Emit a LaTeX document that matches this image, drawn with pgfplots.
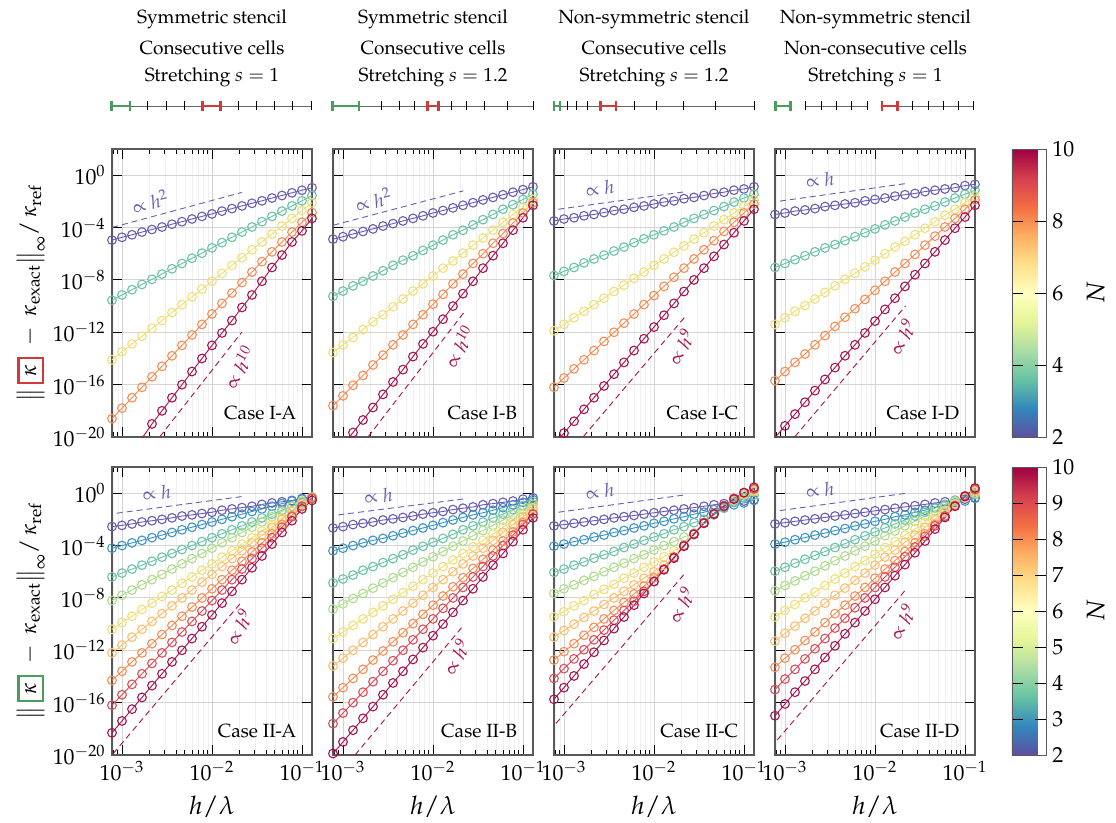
\documentclass[border=0pt]{standalone}
\usepackage{mathpazo}
\usepackage[no-math]{fontspec}
\setmainfont{TeX Gyre Pagella}
\usepackage{pgfplots}
\usepackage{pgfplotstable}
\pgfplotsset{compat=1.18}
\usepgfplotslibrary{groupplots}

\definecolor{c2}{HTML}{6A5DB0}
\definecolor{c3}{HTML}{3F94C2}
\definecolor{c4}{HTML}{6CC3A5}
\definecolor{c5}{HTML}{AEDB8C}
\definecolor{c6}{HTML}{EEDF78}
\definecolor{c7}{HTML}{FDBE6E}
\definecolor{c8}{HTML}{F88D55}
\definecolor{c9}{HTML}{DD4D58}
\definecolor{c10}{HTML}{A8124E}
\definecolor{kred}{HTML}{D03A3A}
\definecolor{kgreen}{HTML}{4A9E5C}

\pgfplotsset{colormap={spec}{rgb255=(94,79,162) rgb255=(50,136,189) rgb255=(102,194,165) rgb255=(171,221,164) rgb255=(230,245,152) rgb255=(255,255,191) rgb255=(254,224,139) rgb255=(253,174,97) rgb255=(244,109,67) rgb255=(213,62,79) rgb255=(158,1,66)}}

\setlength{\fboxrule}{1.3pt}
\setlength{\fboxsep}{3pt}
\newcommand{\hdr}{\fontsize{10.5}{12}\selectfont}
\newcommand{\tck}{\fontsize{12}{14}\selectfont}
\newcommand{\lbl}{\fontsize{14}{16}\selectfont}
\newcommand{\ylbl}{\fontsize{12.5}{14}\selectfont}
\newcommand{\ser}[3]{\addplot[color=#1, mark=o] table[x=x, y=#2] {#3};}
\newcommand{\case}[1]{\node[anchor=base east, font=\hdr] at (rel axis cs:0.953,0.0625) {#1};}
\newcommand{\stick}[1]{\draw[line width=0.5pt] (#1,101.5) -- (#1,110.5);}
\newcommand{\scell}[3]{\draw[#1, line width=1.4pt] (#2,106) -- (#3,106) (#2,101) -- (#2,111) (#3,101) -- (#3,111);}
\tikzset{refl/.style={dash pattern=on 3.3pt off 2.2pt, line width=0.5pt, mark=none}}

% case I: N = 2 4 6 8 10
\pgfplotstableread{
x n2 n4 n6 n8 n10
7.743e-4 1.1e-5 2.8e-10 7.9e-15 2.5e-19 nan
1e-3 1.8e-5 7.1e-10 3.2e-14 1.6e-18 nan
1.292e-3 2.8e-5 1.8e-9 1.3e-13 1e-17 nan
1.668e-3 4.5e-5 4.5e-9 5e-13 6.3e-17 nan
2.154e-3 7.1e-5 1.1e-8 2e-12 4e-16 1e-19
2.783e-3 1.1e-4 2.8e-8 7.9e-12 2.5e-15 1e-18
3.594e-3 1.8e-4 7.1e-8 3.2e-11 1.6e-14 1e-17
4.642e-3 2.8e-4 1.8e-7 1.3e-10 1e-13 1e-16
5.995e-3 4.5e-4 4.5e-7 5e-10 6.3e-13 1e-15
7.743e-3 7.1e-4 1.1e-6 2e-9 4e-12 1e-14
1e-2 1.1e-3 2.8e-6 7.9e-9 2.5e-11 1e-13
1.292e-2 1.8e-3 7.1e-6 3.2e-8 1.6e-10 8.9e-13
1.668e-2 2.8e-3 1.8e-5 1.3e-7 1e-9 7.9e-12
2.154e-2 4.5e-3 4.5e-5 5e-7 6.3e-9 7.9e-11
2.783e-2 7.1e-3 1.1e-4 2e-6 4e-8 7.1e-10
3.594e-2 1.1e-2 2.8e-4 7.9e-6 2.5e-7 7.9e-9
4.642e-2 1.8e-2 7.1e-4 3.2e-5 1.4e-6 8.9e-8
5.995e-2 2.8e-2 1.8e-3 1.3e-4 7.9e-6 7.9e-7
7.743e-2 4.5e-2 4.5e-3 5e-4 4.5e-5 7.9e-6
1e-1 7.1e-2 1.1e-2 2e-3 2.5e-4 5.6e-5
1.292e-1 1.1e-1 2.8e-2 7.9e-3 1.4e-3 5e-4
}\tIA
\pgfplotstableread{
x n2 n4 n6 n8 n10
7.743e-4 1.3e-5 5.6e-10 2.8e-14 2.5e-18 nan
1e-3 2e-5 1.4e-9 1.1e-13 1.4e-17 nan
1.292e-3 3.2e-5 3.5e-9 4e-13 8.9e-17 2.2e-20
1.668e-3 5e-5 7.9e-9 1.6e-12 5e-16 2e-19
2.154e-3 7.9e-5 2e-8 6.3e-12 3.2e-15 1.8e-18
2.783e-3 1.3e-4 5e-8 2.2e-11 1.8e-14 1.8e-17
3.594e-3 2e-4 1.3e-7 8.9e-11 1.1e-13 1.6e-16
4.642e-3 3.2e-4 3.2e-7 3.5e-10 6.3e-13 1.4e-15
5.995e-3 5e-4 7.1e-7 1.4e-9 4e-12 1.4e-14
7.743e-3 7.9e-4 1.8e-6 5e-9 2.2e-11 1.3e-13
1e-2 1.3e-3 4.5e-6 2e-8 1.4e-10 1.1e-12
1.292e-2 2e-3 1.1e-5 7.9e-8 7.9e-10 1e-11
1.668e-2 3.2e-3 2.8e-5 2.8e-7 5e-9 1e-10
2.154e-2 5e-3 6.3e-5 1.1e-6 2.8e-8 8.9e-10
2.783e-2 7.9e-3 1.6e-4 4.5e-6 1.8e-7 7.9e-9
3.594e-2 1.3e-2 4e-4 1.6e-5 1e-6 7.9e-8
4.642e-2 2e-2 1e-3 6.3e-5 6.3e-6 7.1e-7
5.995e-2 3.2e-2 2.5e-3 2.5e-4 3.5e-5 6.3e-6
7.743e-2 5e-2 5.6e-3 1e-3 2.2e-4 6.3e-5
1e-1 7.9e-2 1.4e-2 3.5e-3 1.3e-3 5.6e-4
1.292e-1 1.3e-1 3.5e-2 1.4e-2 7.9e-3 5e-3
}\tIB
\pgfplotstableread{
x n2 n4 n6 n8 n10
7.743e-4 3.2e-4 2.2e-8 1.3e-12 6.3e-17 nan
1e-3 4.5e-4 4.5e-8 4e-12 3.2e-16 2e-20
1.292e-3 5.6e-4 8.9e-8 1.3e-11 1.6e-15 1.6e-19
1.668e-3 7.9e-4 2e-7 4e-11 7.9e-15 1.3e-18
2.154e-3 1e-3 4e-7 1.3e-10 4e-14 1e-17
2.783e-3 1.4e-3 7.9e-7 4e-10 2e-13 7.9e-17
3.594e-3 2e-3 1.6e-6 1.3e-9 1e-12 6.3e-16
4.642e-3 2.5e-3 3.2e-6 4e-9 5e-12 5e-15
5.995e-3 3.5e-3 7.1e-6 1.3e-8 2.5e-11 4e-14
7.743e-3 4.5e-3 1.4e-5 4e-8 1.3e-10 3.2e-13
1e-2 6.3e-3 2.8e-5 1.3e-7 6.3e-10 2.5e-12
1.292e-2 8.9e-3 5.6e-5 4e-7 3.2e-9 2e-11
1.668e-2 1.1e-2 1.1e-4 1.3e-6 1.6e-8 1.6e-10
2.154e-2 1.6e-2 2.5e-4 4e-6 7.9e-8 1.3e-9
2.783e-2 2e-2 5e-4 1.3e-5 4e-7 1e-8
3.594e-2 2.8e-2 1e-3 4e-5 2e-6 7.9e-8
4.642e-2 4e-2 2e-3 1.3e-4 1e-5 6.3e-7
5.995e-2 5e-2 4e-3 4e-4 5e-5 5e-6
7.743e-2 7.1e-2 8.9e-3 1.3e-3 2.5e-4 4e-5
1e-1 8.9e-2 1.8e-2 4e-3 1.3e-3 3.2e-4
1.292e-1 1.3e-1 3.5e-2 1.3e-2 6.3e-3 2.5e-3
}\tIC
\pgfplotstableread{
x n2 n4 n6 n8 n10
7.743e-4 1e-3 8.9e-8 4e-12 2e-16 nan
1e-3 1.3e-3 1.8e-7 1.3e-11 1e-15 7.1e-20
1.292e-3 1.8e-3 3.5e-7 4e-11 5e-15 5.6e-19
1.668e-3 2.2e-3 7.1e-7 1.1e-10 2.2e-14 4.5e-18
2.154e-3 2.8e-3 1.4e-6 3.5e-10 1.1e-13 3.5e-17
2.783e-3 4e-3 2.8e-6 1.1e-9 5.6e-13 2.5e-16
3.594e-3 5e-3 5e-6 3.5e-9 2.8e-12 2e-15
4.642e-3 6.3e-3 1e-5 1.1e-8 1.4e-11 1.6e-14
5.995e-3 7.9e-3 2e-5 3.2e-8 6.3e-11 1.1e-13
7.743e-3 1.1e-2 4e-5 1e-7 3.2e-10 8.9e-13
1e-2 1.4e-2 7.9e-5 3.2e-7 1.6e-9 7.1e-12
1.292e-2 1.8e-2 1.6e-4 1e-6 7.9e-9 5.6e-11
1.668e-2 2.5e-2 3.2e-4 3.2e-6 4e-8 4e-10
2.154e-2 3.2e-2 6.3e-4 8.9e-6 1.8e-7 3.2e-9
2.783e-2 4e-2 1.3e-3 2.8e-5 8.9e-7 2.5e-8
3.594e-2 5.6e-2 2.5e-3 8.9e-5 4.5e-6 1.8e-7
4.642e-2 7.1e-2 4.5e-3 2.8e-4 2.2e-5 1.4e-6
5.995e-2 8.9e-2 8.9e-3 8.9e-4 1.1e-4 1.1e-5
7.743e-2 1.1e-1 1.8e-2 2.5e-3 5e-4 8.9e-5
1e-1 1.6e-1 3.5e-2 7.9e-3 2.5e-3 6.3e-4
1.292e-1 2e-1 7.1e-2 2.5e-2 1.3e-2 5e-3
}\tID

% case II: N = 2 ... 10
\pgfplotstableread{
x n2 n3 n4 n5 n6 n7 n8 n9 n10
7.743e-4 2.8e-3 6.3e-5 4e-7 6.3e-9 4e-11 6.3e-13 5e-15 6.3e-17 5e-19
1e-3 3.5e-3 1e-4 7.9e-7 1.6e-8 1.3e-10 2.5e-12 2.5e-14 4e-16 4e-18
1.292e-3 4.5e-3 1.6e-4 1.6e-6 4e-8 4e-10 1e-11 1.3e-13 2.5e-15 3.2e-17
1.668e-3 6.3e-3 2.5e-4 3.2e-6 1e-7 1.3e-9 4e-11 6.3e-13 1.6e-14 2.5e-16
2.154e-3 7.9e-3 4e-4 6.3e-6 2.5e-7 4e-9 1.6e-10 3.2e-12 1e-13 2e-15
2.783e-3 1e-2 6.3e-4 1.3e-5 6.3e-7 1.3e-8 6.3e-10 1.6e-11 6.3e-13 1.6e-14
3.594e-3 1.3e-2 1e-3 2.5e-5 1.6e-6 4e-8 2.5e-9 7.9e-11 4e-12 1.3e-13
4.642e-3 1.8e-2 1.6e-3 5e-5 4e-6 1.3e-7 1e-8 4e-10 2.5e-11 1e-12
5.995e-3 2.2e-2 2.5e-3 1e-4 1e-5 4e-7 4e-8 2e-9 1.6e-10 7.9e-12
7.743e-3 2.8e-2 4e-3 2e-4 2.5e-5 1.3e-6 1.6e-7 1e-8 1e-9 6.3e-11
1e-2 3.5e-2 6.3e-3 4e-4 6.3e-5 4e-6 6.3e-7 5e-8 6.3e-9 5e-10
1.292e-2 5e-2 1e-2 7.9e-4 1.6e-4 1.3e-5 2.5e-6 2.5e-7 4e-8 4e-9
1.668e-2 6.3e-2 1.6e-2 1.6e-3 4e-4 4e-5 1e-5 1.3e-6 2.5e-7 3.2e-8
2.154e-2 7.9e-2 2.5e-2 3.2e-3 1e-3 1.3e-4 4e-5 6.3e-6 1.6e-6 2.5e-7
2.783e-2 1e-1 4e-2 6.3e-3 2.5e-3 4e-4 1.6e-4 3.2e-5 1e-5 2e-6
3.594e-2 1.4e-1 6.3e-2 1.3e-2 6.3e-3 1.3e-3 6.3e-4 1.6e-4 6.3e-5 1.6e-5
4.642e-2 1.8e-1 1e-1 2.5e-2 1.6e-2 4e-3 2.5e-3 7.9e-4 4e-4 1.3e-4
5.995e-2 2.2e-1 1.6e-1 5e-2 4e-2 1.3e-2 1e-2 4e-3 2.5e-3 1e-3
7.743e-2 2.8e-1 2.5e-1 1e-1 1e-1 4e-2 4e-2 2e-2 1.6e-2 7.9e-3
1e-1 4e-1 3.5e-1 2e-1 2.5e-1 1.3e-1 1.6e-1 1e-1 1e-1 6.3e-2
1.292e-1 5e-1 5e-1 4e-1 5e-1 4e-1 4.5e-1 4.5e-1 4e-1 2.8e-1
}\tIIA
\pgfplotstableread{
x n2 n3 n4 n5 n6 n7 n8 n9 n10
7.743e-4 2.2e-3 4e-5 1.4e-7 1.4e-9 7.9e-12 6.3e-14 2.8e-16 2.5e-18 1.3e-20
1e-3 2.8e-3 6.3e-5 2.8e-7 3.5e-9 2.5e-11 2.5e-13 1.4e-15 1.6e-17 1e-19
1.292e-3 4e-3 1e-4 5.6e-7 8.9e-9 7.9e-11 1e-12 7.1e-15 1e-16 7.9e-19
1.668e-3 5e-3 1.6e-4 1.3e-6 2.2e-8 2.5e-10 4e-12 3.5e-14 6.3e-16 6.3e-18
2.154e-3 6.3e-3 2.5e-4 2.5e-6 5.6e-8 7.9e-10 1.6e-11 1.8e-13 4e-15 5e-17
2.783e-3 8.9e-3 3.5e-4 5e-6 1.4e-7 2.5e-9 6.3e-11 8.9e-13 2.5e-14 4e-16
3.594e-3 1.1e-2 5.6e-4 1e-5 3.5e-7 7.9e-9 2.5e-10 4.5e-12 1.6e-13 3.2e-15
4.642e-3 1.4e-2 8.9e-4 2e-5 8.9e-7 2.5e-8 1e-9 2.2e-11 1e-12 2.5e-14
5.995e-3 1.8e-2 1.4e-3 4.5e-5 2.2e-6 7.9e-8 4e-9 1.1e-10 6.3e-12 2e-13
7.743e-3 2.5e-2 2.2e-3 8.9e-5 5.6e-6 2.5e-7 1.6e-8 5.6e-10 4e-11 1.6e-12
1e-2 3.2e-2 3.5e-3 1.8e-4 1.4e-5 7.9e-7 6.3e-8 2.8e-9 2.5e-10 1.3e-11
1.292e-2 4e-2 5.6e-3 3.5e-4 3.5e-5 2.5e-6 2.5e-7 1.4e-8 1.6e-9 1e-10
1.668e-2 5.6e-2 8.9e-3 7.1e-4 8.9e-5 7.9e-6 1e-6 7.1e-8 1e-8 7.9e-10
2.154e-2 7.1e-2 1.4e-2 1.6e-3 2.2e-4 2.5e-5 4e-6 3.5e-7 6.3e-8 6.3e-9
2.783e-2 8.9e-2 2.2e-2 3.2e-3 5.6e-4 7.9e-5 1.6e-5 1.8e-6 4e-7 5e-8
3.594e-2 1.3e-1 3.2e-2 6.3e-3 1.4e-3 2.5e-4 6.3e-5 8.9e-6 2.5e-6 4e-7
4.642e-2 1.6e-1 5e-2 1.3e-2 3.5e-3 7.9e-4 2.5e-4 4.5e-5 1.6e-5 3.2e-6
5.995e-2 2e-1 7.9e-2 2.5e-2 8.9e-3 2.5e-3 1e-3 2.2e-4 1e-4 2.5e-5
7.743e-2 2.5e-1 1.3e-1 5.6e-2 2.2e-2 7.9e-3 4e-3 1.1e-3 6.3e-4 2e-4
1e-1 3.5e-1 2e-1 1.1e-1 5.6e-2 2.5e-2 1.6e-2 5.6e-3 4e-3 1.6e-3
1.292e-1 4.5e-1 3.2e-1 2.2e-1 1.4e-1 7.9e-2 6.3e-2 2.8e-2 2.5e-2 1.3e-2
}\tIIB
\pgfplotstableread{
x n2 n3 n4 n5 n6 n7 n8 n9 n10
7.743e-4 3.2e-3 8.9e-5 8.9e-7 2.2e-8 3.5e-10 1e-11 1.8e-13 7.1e-15 1.8e-16
1e-3 4e-3 1.3e-4 1.6e-6 5e-8 8.9e-10 3.2e-11 7.9e-13 4e-14 1.4e-15
1.292e-3 5e-3 2e-4 3.2e-6 1e-7 2.5e-9 1e-10 3.2e-12 2.2e-13 1.1e-14
1.668e-3 6.3e-3 2.8e-4 5.6e-6 2.2e-7 6.3e-9 3.2e-10 1.4e-11 1.1e-12 8.9e-14
2.154e-3 7.9e-3 4.5e-4 1.1e-5 4.5e-7 1.8e-8 1e-9 5.6e-11 6.3e-12 7.1e-13
2.783e-3 1e-2 6.3e-4 2e-5 1e-6 4.5e-8 3.2e-9 2.5e-10 3.5e-11 5.6e-12
3.594e-3 1.3e-2 1e-3 3.5e-5 2.2e-6 1.1e-7 1e-8 1.1e-9 2e-10 4.5e-11
4.642e-3 1.6e-2 1.4e-3 7.1e-5 4.5e-6 3.2e-7 3.2e-8 4.5e-9 1.1e-9 3.5e-10
5.995e-3 2e-2 2.2e-3 1.3e-4 1e-5 7.9e-7 1e-7 2e-8 5.6e-9 2.8e-9
7.743e-3 2.5e-2 3.2e-3 2.5e-4 2e-5 2.2e-6 3.2e-7 7.9e-8 3.2e-8 2.2e-8
1e-2 3.2e-2 5e-3 4.5e-4 4.5e-5 5.6e-6 1e-6 3.5e-7 1.8e-7 1.8e-7
1.292e-2 4e-2 7.1e-3 7.9e-4 1e-4 1.4e-5 3.2e-6 1.6e-6 1.6e-6 1.4e-6
1.668e-2 5e-2 1.1e-2 1.6e-3 2e-4 4e-5 1.1e-5 1.3e-5 1.3e-5 1.1e-5
2.154e-2 6.3e-2 1.6e-2 2.8e-3 4.5e-4 1e-4 1e-4 1e-4 1e-4 8.9e-5
2.783e-2 7.9e-2 2.5e-2 5.6e-3 8.9e-4 7.9e-4 7.9e-4 7.9e-4 7.9e-4 7.1e-4
3.594e-2 1e-1 3.5e-2 1e-2 5.6e-3 5.6e-3 5.6e-3 5.6e-3 5.6e-3 5e-3
4.642e-2 1.3e-1 5.6e-2 2.2e-2 2.8e-2 2.8e-2 2.8e-2 2.8e-2 2.8e-2 2.5e-2
5.995e-2 1.6e-1 7.9e-2 7.1e-2 1e-1 1.1e-1 1.1e-1 1.1e-1 1.1e-1 1e-1
7.743e-2 2e-1 1.3e-1 2e-1 2.8e-1 3.5e-1 3.5e-1 4e-1 4e-1 3.5e-1
1e-1 2.5e-1 1.8e-1 4.5e-1 7.1e-1 8.9e-1 1 1 1.1 1.1
1.292e-1 3.2e-1 2.8e-1 7.1e-1 1.3 1.6 1.8 2 2.2 2.8
}\tIIC
\pgfplotstableread{
x n2 n3 n4 n5 n6 n7 n8 n9 n10
7.743e-4 4.5e-3 1.3e-4 1.1e-6 3.5e-8 3.5e-10 5e-12 5e-14 1e-15 1e-17
1e-3 5.6e-3 1.8e-4 2.2e-6 8.9e-8 1.1e-9 2e-11 2.5e-13 6.3e-15 7.9e-17
1.292e-3 7.1e-3 2.8e-4 4.5e-6 2e-7 3.2e-9 7.1e-11 1.1e-12 3.5e-14 6.3e-16
1.668e-3 8.9e-3 4e-4 8.9e-6 5e-7 1e-8 2.8e-10 5.6e-12 2.2e-13 4.5e-15
2.154e-3 1.1e-2 6.3e-4 1.8e-5 1.1e-6 2.8e-8 1e-9 2.5e-11 1.3e-12 3.5e-14
2.783e-3 1.4e-2 8.9e-4 3.5e-5 2.8e-6 8.9e-8 4e-9 1.3e-10 7.9e-12 2.8e-13
3.594e-3 1.8e-2 1.4e-3 7.1e-5 7.1e-6 2.8e-7 1.6e-8 6.3e-10 5e-11 2.2e-12
4.642e-3 2.2e-2 2e-3 1.4e-4 1.6e-5 7.9e-7 5.6e-8 2.8e-9 2.8e-10 1.8e-11
5.995e-3 2.8e-2 3.2e-3 2.8e-4 4e-5 2.5e-6 2.2e-7 1.4e-8 1.8e-9 1.3e-10
7.743e-3 3.5e-2 4.5e-3 5.6e-4 8.9e-5 7.1e-6 7.9e-7 6.3e-8 1e-8 1e-9
1e-2 4.5e-2 7.1e-3 1.1e-3 2.2e-4 2.2e-5 3.2e-6 3.2e-7 6.3e-8 7.9e-9
1.292e-2 5.6e-2 1e-2 2.2e-3 5.6e-4 7.1e-5 1.3e-5 1.6e-6 4e-7 6.3e-8
1.668e-2 7.1e-2 1.6e-2 4.5e-3 1.3e-3 2e-4 4.5e-5 7.1e-6 2.2e-6 5e-7
2.154e-2 8.9e-2 2.2e-2 8.9e-3 3.2e-3 6.3e-4 1.8e-4 3.5e-5 1.4e-5 3.5e-6
2.783e-2 1.1e-1 3.5e-2 1.8e-2 7.1e-3 1.8e-3 6.3e-4 1.6e-4 7.9e-5 2.8e-5
3.594e-2 1.4e-1 5e-2 3.5e-2 1.8e-2 5.6e-3 2.5e-3 7.9e-4 5e-4 2.2e-4
4.642e-2 1.8e-1 7.9e-2 7.1e-2 4.5e-2 1.8e-2 1e-2 4e-3 3.2e-3 1.8e-3
5.995e-2 2.2e-1 1.1e-1 1.4e-1 1e-1 5e-2 3.5e-2 1.8e-2 1.8e-2 1.4e-2
7.743e-2 2.8e-1 1.8e-1 2.8e-1 2.5e-1 1.6e-1 1.4e-1 1.1e-1 1.1e-1 1e-1
1e-1 3.5e-1 2.5e-1 5e-1 5.6e-1 4.5e-1 5e-1 5.6e-1 6.3e-1 5.6e-1
1.292e-1 4.5e-1 4e-1 7.9e-1 1 1.3 1.6 1.8 2 2.5
}\tIID

\begin{document}
\begin{tikzpicture}
\begin{groupplot}[
  group style={group size=4 by 2, horizontal sep=11.55pt, vertical sep=16.5pt,
    xticklabels at=edge bottom, yticklabels at=edge left, xlabels at=edge bottom},
  scale only axis, width=110pt, height=158.4pt,
  xmode=log, ymode=log,
  xmin=7.743e-4, xmax=0.1292, ymin=1e-20, ymax=1e2,
  xtick={1e-3,1e-2,1e-1},
  minor xtick={8e-4,9e-4,2e-3,3e-3,4e-3,5e-3,6e-3,7e-3,8e-3,9e-3,2e-2,3e-2,4e-2,5e-2,6e-2,7e-2,8e-2,9e-2},
  ytick={1e-20,1e-16,1e-12,1e-8,1e-4,1e0},
  yminorticks=false,
  xmajorgrids, ymajorgrids, xminorgrids,
  major grid style={black!17, line width=0.5pt},
  minor grid style={black!6, line width=0.4pt},
  tick align=inside, major tick length=5.5pt, minor tick length=2.75pt,
  tick style={black, line width=0.5pt},
  axis line style={black!65, line width=0.8pt},
  tick label style={font=\tck},
  xlabel={$h/\lambda$}, xlabel style={font=\lbl, yshift=-1.5pt},
  every axis plot/.append style={line width=0.5pt, mark size=2.4pt, mark options={line width=0.6pt, solid}},
]
% ---------------- row 1
\nextgroupplot[ylabel={$\bigl\|\,\fcolorbox{kred}{white}{$\kappa$}\;-\;\kappa_{\mathrm{exact}}\bigr\|_{\infty}/\,\kappa_{\mathrm{ref}}$},
  ylabel style={font=\ylbl, at={(axis description cs:-0.405,0.5)}, anchor=center, inner sep=0pt}]
\ser{c2}{n2}{\tIA}
\ser{c4}{n4}{\tIA}
\ser{c6}{n6}{\tIA}
\ser{c8}{n8}{\tIA}
\ser{c10}{n10}{\tIA}
\addplot[c10, mark=none] coordinates {(1.668e-3,7.9e-21) (2.154e-3,1e-19)};
\addplot[c2, refl] coordinates {(7.8e-4,1.02e-4) (2.14e-2,4.8e-2)};
\addplot[c10, refl] coordinates {(2.64e-3,1.07e-20) (2.14e-2,1e-12)};
\node[rotate=15, text=c2, font=\hdr] at (axis cs:2.05e-3,9.1e-3) {$\propto h^{2}$};
\node[rotate=60, text=c10, font=\hdr] at (axis cs:2.0e-2,2.2e-15) {$\propto h^{10}$};
\case{Case I-A}

\nextgroupplot
\ser{c2}{n2}{\tIB}
\ser{c4}{n4}{\tIB}
\ser{c6}{n6}{\tIB}
\ser{c8}{n8}{\tIB}
\ser{c10}{n10}{\tIB}
\addplot[c10, mark=none] coordinates {(1e-3,2.3e-21) (1.292e-3,2.2e-20)};
\addplot[c2, refl] coordinates {(7.8e-4,1.5e-4) (2.17e-2,6.3e-2)};
\addplot[c10, refl] coordinates {(1.91e-3,1.07e-20) (2.21e-2,3.3e-11)};
\node[rotate=15, text=c2, font=\hdr] at (axis cs:2.17e-3,1.23e-2) {$\propto h^{2}$};
\node[rotate=60, text=c10, font=\hdr] at (axis cs:1.95e-2,7.9e-14) {$\propto h^{10}$};
\case{Case I-B}

\nextgroupplot
\ser{c2}{n2}{\tIC}
\ser{c4}{n4}{\tIC}
\ser{c6}{n6}{\tIC}
\ser{c8}{n8}{\tIC}
\ser{c10}{n10}{\tIC}
\addplot[c10, mark=none] coordinates {(7.743e-4,2.5e-21) (1e-3,2e-20)};
\addplot[c2, refl] coordinates {(8.65e-4,2.5e-3) (2.21e-2,5.4e-2)};
\addplot[c10, refl] coordinates {(1.64e-3,1.07e-20) (2.21e-2,1.5e-11)};
\node[rotate=8, text=c2, font=\hdr] at (axis cs:2.51e-3,9.6e-2) {$\propto h$};
\node[rotate=60, text=c10, font=\hdr] at (axis cs:1.98e-2,7.9e-14) {$\propto h^{9}$};
\case{Case I-C}

\nextgroupplot[colorbar, colormap name=spec, point meta min=2, point meta max=10,
  colorbar shift/.style={xshift=20.35pt},
  colorbar style={at={(parent axis.north east)}, anchor=north west, width=18.7pt,
    ytick={2,4,6,8,10}, yticklabel style={font=\tck},
    ylabel={$N$}, ylabel style={font=\lbl},
    tick align=inside, major tick length=5.8pt, tick style={black, line width=0.5pt},
    axis line style={black!65, line width=0.5pt}}]
\ser{c2}{n2}{\tID}
\ser{c4}{n4}{\tID}
\ser{c6}{n6}{\tID}
\ser{c8}{n8}{\tID}
\ser{c10}{n10}{\tID}
\addplot[c10, mark=none] coordinates {(7.743e-4,8.9e-21) (1e-3,7.1e-20)};
\addplot[c2, refl] coordinates {(8.8e-4,1.05e-2) (2.25e-2,0.234)};
\addplot[c10, refl] coordinates {(1.29e-3,1.07e-20) (2.19e-2,1.05e-10)};
\node[rotate=8, text=c2, font=\hdr] at (axis cs:2.45e-3,0.42) {$\propto h$};
\node[rotate=60, text=c10, font=\hdr] at (axis cs:2.0e-2,4.6e-13) {$\propto h^{9}$};
\case{Case I-D}

% ---------------- row 2
\nextgroupplot[ylabel={$\bigl\|\,\fcolorbox{kgreen}{white}{$\kappa$}\;-\;\kappa_{\mathrm{exact}}\bigr\|_{\infty}/\,\kappa_{\mathrm{ref}}$},
  ylabel style={font=\ylbl, at={(axis description cs:-0.405,0.5)}, anchor=center, inner sep=0pt}]
\ser{c2}{n2}{\tIIA}
\ser{c3}{n3}{\tIIA}
\ser{c4}{n4}{\tIIA}
\ser{c5}{n5}{\tIIA}
\ser{c6}{n6}{\tIIA}
\ser{c7}{n7}{\tIIA}
\ser{c8}{n8}{\tIIA}
\ser{c9}{n9}{\tIIA}
\ser{c10}{n10}{\tIIA}
\addplot[c2, refl] coordinates {(8.73e-4,2.95e-2) (2.14e-2,0.55)};
\addplot[c10, refl] coordinates {(8e-4,1.3e-20) (2.14e-2,5.1e-9)};
\node[rotate=8, text=c2, font=\hdr] at (axis cs:2.43e-3,1) {$\propto h$};
\node[rotate=60, text=c10, font=\hdr] at (axis cs:1.98e-2,6.3e-11) {$\propto h^{9}$};
\case{Case II-A}

\nextgroupplot
\ser{c2}{n2}{\tIIB}
\ser{c3}{n3}{\tIIB}
\ser{c4}{n4}{\tIIB}
\ser{c5}{n5}{\tIIB}
\ser{c6}{n6}{\tIIB}
\ser{c7}{n7}{\tIIB}
\ser{c8}{n8}{\tIIB}
\ser{c9}{n9}{\tIIB}
\ser{c10}{n10}{\tIIB}
\addplot[c2, refl] coordinates {(8.87e-4,2.2e-2) (2.17e-2,0.36)};
\addplot[c10, refl] coordinates {(1.36e-3,1e-20) (2.12e-2,6.3e-11)};
\node[rotate=8, text=c2, font=\hdr] at (axis cs:2.47e-3,0.62) {$\propto h$};
\node[rotate=60, text=c10, font=\hdr] at (axis cs:1.8e-2,3.2e-13) {$\propto h^{9}$};
\case{Case II-B}

\nextgroupplot
\ser{c2}{n2}{\tIIC}
\ser{c3}{n3}{\tIIC}
\ser{c4}{n4}{\tIIC}
\ser{c5}{n5}{\tIIC}
\ser{c6}{n6}{\tIIC}
\ser{c7}{n7}{\tIIC}
\ser{c8}{n8}{\tIIC}
\ser{c9}{n9}{\tIIC}
\ser{c10}{n10}{\tIIC}
\addplot[c2, refl] coordinates {(8.65e-4,3.5e-2) (2.21e-2,0.74)};
\addplot[c10, refl] coordinates {(8.15e-4,2.6e-18) (2.21e-2,7.6e-7)};
\node[rotate=8, text=c2, font=\hdr] at (axis cs:2.51e-3,1.3) {$\propto h$};
\node[rotate=60, text=c10, font=\hdr] at (axis cs:2.0e-2,2.9e-9) {$\propto h^{9}$};
\case{Case II-C}

\nextgroupplot[colorbar, colormap name=spec, point meta min=2, point meta max=10,
  colorbar shift/.style={xshift=20.35pt},
  colorbar style={at={(parent axis.north east)}, anchor=north west, width=18.7pt,
    ytick={2,3,...,10}, yticklabel style={font=\tck},
    ylabel={$N$}, ylabel style={font=\lbl},
    tick align=inside, major tick length=5.8pt, tick style={black, line width=0.5pt},
    axis line style={black!65, line width=0.5pt}}]
\ser{c2}{n2}{\tIID}
\ser{c3}{n3}{\tIID}
\ser{c4}{n4}{\tIID}
\ser{c5}{n5}{\tIID}
\ser{c6}{n6}{\tIID}
\ser{c7}{n7}{\tIID}
\ser{c8}{n8}{\tIID}
\ser{c9}{n9}{\tIID}
\ser{c10}{n10}{\tIID}
\addplot[c2, refl] coordinates {(8.8e-4,4.7e-2) (2.25e-2,1.0)};
\addplot[c10, refl] coordinates {(8.2e-4,1.4e-19) (2.19e-2,4.1e-8)};
\node[rotate=8, text=c2, font=\hdr] at (axis cs:2.45e-3,1.8) {$\propto h$};
\node[rotate=60, text=c10, font=\hdr] at (axis cs:2.0e-2,1.5e-10) {$\propto h^{9}$};
\case{Case II-D}
\end{groupplot}

% headers and stencil sketches, in pixel units of the reference
\begin{scope}[x=0.55pt, y=-0.55pt, shift={(group c1r1.north west)}, shift={(-112,-149)}]
\foreach \cx/\la/\lb/\lc in {212/Symmetric stencil/Consecutive cells/{Stretching $s=1$},
    433/Symmetric stencil/Consecutive cells/{Stretching $s=1.2$},
    654/Non-symmetric stencil/Consecutive cells/{Stretching $s=1.2$},
    875.5/Non-symmetric stencil/Non-consecutive cells/{Stretching $s=1$}} {
  \node[anchor=base, font=\hdr, inner sep=0pt] at (\cx,24) {\la};
  \node[anchor=base, font=\hdr, inner sep=0pt] at (\cx,55) {\lb};
  \node[anchor=base, font=\hdr, inner sep=0pt] at (\cx,82) {\lc};
}
% A
\draw[black!60, line width=0.5pt] (111.7,106) -- (311,106);
\foreach \t in {111.7,129.8,147.9,166.1,184.2,202.3,220.4,238.5,256.7,274.8,292.9,311} {\stick{\t}}
\scell{kgreen}{111.7}{129.8}
\scell{kred}{202.3}{220.4}
% B
\draw[black!60, line width=0.5pt] (332.3,106) -- (533.5,106);
\foreach \t in {332.3,358.9,381,399.4,414.8,427.6,438.3,451.1,466.4,484.9,507,533.5} {\stick{\t}}
\scell{kgreen}{332.3}{358.9}
\scell{kred}{427.6}{438.3}
% C
\draw[black!60, line width=0.5pt] (554,106) -- (754.4,106);
\foreach \t in {554,560.2,567.7,576.7,587.4,600.4,615.9,634.5,656.8,683.6,715.8,754.4} {\stick{\t}}
\scell{kgreen}{554}{560.2}
\scell{kred}{600.4}{615.9}
% D
\draw[black!60, line width=0.5pt] (805.7,106) -- (867,106);
\draw[black!60, line width=0.5pt] (897.3,106) -- (973.7,106);
\foreach \t in {805.7,821,836.3,851.7,867,912.7,928,943.3,958.3,973.7} {\stick{\t}}
\scell{kgreen}{775.3}{790.7}
\scell{kred}{882}{897.3}
\pgfresetboundingbox
\path (0,0) rectangle (1116,823);
\end{scope}
\end{tikzpicture}
\end{document}
